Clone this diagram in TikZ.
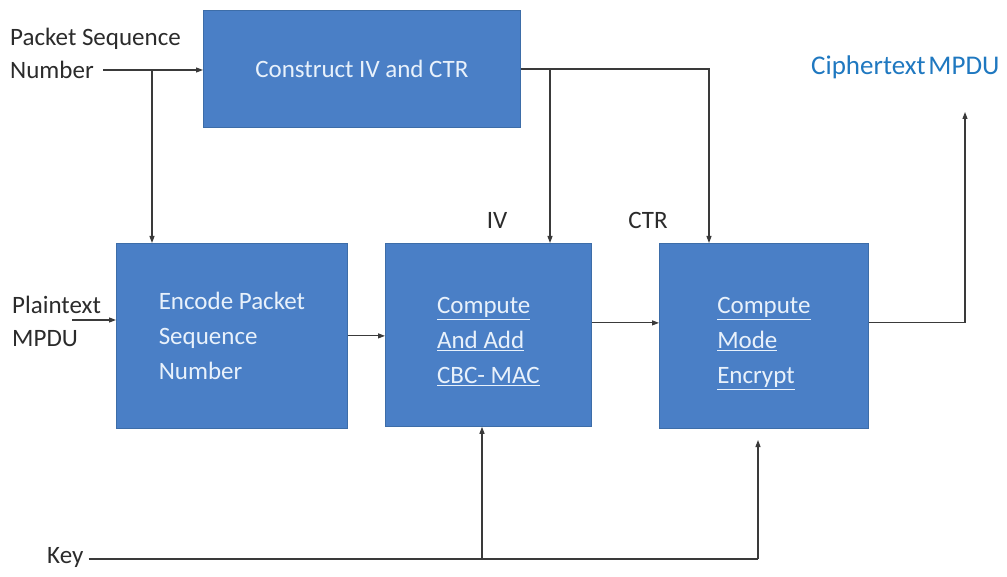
\documentclass[tikz,border=0pt]{standalone}
\usepackage{fontspec}
\setmainfont{Carlito}
\usetikzlibrary{arrows.meta,calc}
\definecolor{boxfill}{HTML}{4A7FC6}
\definecolor{boxedge}{HTML}{3D6DA8}
\definecolor{boxtext}{HTML}{E8F1FB}
\definecolor{linec}{HTML}{3A3A3A}
\definecolor{labelc}{HTML}{2B2B2B}
\definecolor{outc}{HTML}{1F78C0}
\begin{document}
\begin{tikzpicture}[x=1pt,y=-1pt,
  blk/.style={draw=boxedge, fill=boxfill, line width=0.8pt, text=boxtext,
    font=\fontsize{25}{35}\selectfont, align=left, inner sep=0pt, anchor=north west},
  conn/.style={draw=linec, line width=1.1pt, -{Triangle[length=7pt,width=5pt]}},
  wire/.style={draw=linec, line width=1.1pt},
  lbl/.style={font=\fontsize{25}{33}\selectfont, text=labelc, align=left, inner sep=0pt}]
\useasboundingbox (0,0) rectangle (1007,577);

% processing blocks
\node[blk, minimum width=317pt, minimum height=117pt] (con) at (203,10) {Construct IV and CTR};
\node[blk, minimum width=231pt, minimum height=185pt] (enc) at (116,243) {Encode Packet\\Sequence\\Number};
\node[blk, minimum width=206pt, minimum height=183pt] (cbc) at (385,243)
  {\rule{0pt}{30pt}\underline{Compute}\\\underline{And Add}\\\underline{CBC- MAC}};
\node[blk, minimum width=209pt, minimum height=185pt] (mode) at (659,243)
  {\rule{0pt}{31pt}\underline{Compute}\\\underline{Mode}\\\underline{Encrypt}};

% inputs and outputs
\node[lbl, anchor=north west] (psn) at (10,28) {Packet Sequence\\Number};
\node[lbl, anchor=north west] (pt) at (12,296) {Plaintext\\MPDU};
\node[lbl, anchor=west] (key) at (47,557) {Key};
\node[lbl] (iv) at (497,220) {IV};
\node[lbl] (ctr) at (648,220) {CTR};
\node[lbl, text=outc, font=\fontsize{27}{30}\selectfont, anchor=west] (ct) at (811,67) {Ciphertext\hspace{-0.12em} MPDU};

% connector helper points
\coordinate (psnstart) at (103,70);
\coordinate (psnbr) at (152,70);
\coordinate (ivbr) at (550,69);
\coordinate (ctrx) at (709,69);
\coordinate (ptstart) at (72,320);
\coordinate (cbcout) at ($(cbc.east)+(0,-12)$);
\coordinate (modeout) at ($(mode.east)+(0,-13)$);
\coordinate (outend) at (965,112);
\coordinate (keystart) at ($(key.east)+(5,2)$);
\coordinate (keybr) at (482,559);
\coordinate (keyend) at (758,559);
\coordinate (modekey) at (758,440);

% connectors
\draw[conn] (psnstart) -- (psnstart -| con.west);
\draw[conn] (psnbr) -- (psnbr |- enc.north);
\draw[conn] (con.east |- ctrx) -| (ctrx |- mode.north);
\draw[conn] (ivbr) -- (ivbr |- cbc.north);
\draw[conn] (ptstart) -- (ptstart -| enc.west);
\draw[conn] (enc.east) -- (enc.east -| cbc.west);
\draw[conn] (cbcout) -- (cbcout -| mode.west);
\draw[conn] (modeout) -| (outend);
\draw[wire] (keystart) -- (keyend);
\draw[conn] (keybr) -- (keybr |- cbc.south);
\draw[conn] (keyend) -- (modekey);
\end{tikzpicture}
\end{document}
